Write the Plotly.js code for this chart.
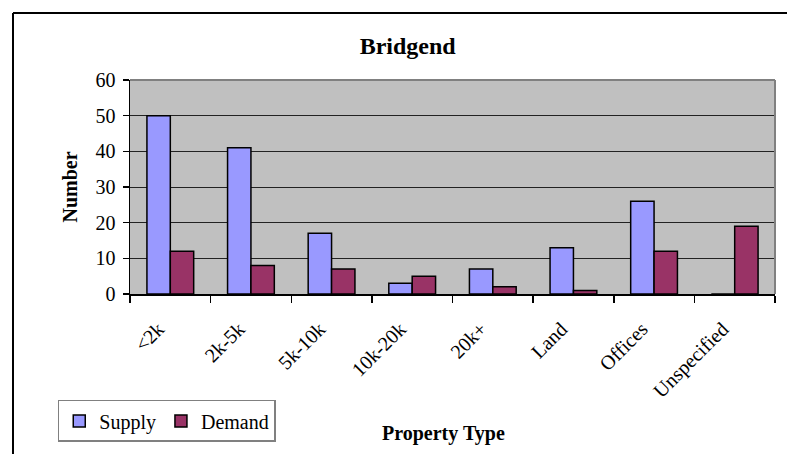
<!DOCTYPE html>
<html>
<head>
<meta charset="utf-8">
<script src="https://cdn.plot.ly/plotly-3.0.1.min.js"></script>
<style>
  body { margin: 0; background: #fff; }
  #chart { width: 787px; height: 454px; }
</style>
</head>
<body>
<div id="chart"></div>
<script>
// Bridgend - property type supply vs demand
const categories = ['<2k', '2k-5k', '5k-10k', '10k-20k', '20k+', 'Land', 'Offices', 'Unspecified'];
const supply = [50, 41, 17, 3, 7, 13, 26, 0];
const demand = [12, 8, 7, 5, 2, 1, 12, 19];
const yTicks = [0, 10, 20, 30, 40, 50, 60];

const serif = 'Liberation Serif, Times New Roman, serif';

const traces = [
    {
        x: categories,
        y: supply,
        type: 'bar',
        name: 'Supply',
        marker: { color: '#9999FF', line: { color: '#000', width: 1.5 } }
    },
    {
        x: categories,
        y: demand,
        type: 'bar',
        name: 'Demand',
        marker: { color: '#993366', line: { color: '#000', width: 1.5 } }
    }
];

const layout = {
    width: 787,
    height: 454,
    margin: { l: 130, r: 12, t: 80, b: 160 },
    paper_bgcolor: '#fff',
    plot_bgcolor: '#C0C0C0',
    font: { family: serif, size: 20, color: '#000' },
    barmode: 'group',
    bargap: 0.42,
    bargroupgap: 0,
    title: {
        text: '<b>Bridgend</b>',
        font: { family: serif, size: 24, color: '#000' },
        x: 0.518,
        xanchor: 'center',
        y: 0.899,
        yanchor: 'middle'
    },
    xaxis: {
        type: 'category',
        tickangle: -45,
        ticks: 'outside',
        tickson: 'boundaries',
        ticklen: 7,
        tickwidth: 1.5,
        tickcolor: '#000',
        ticklabelstandoff: 14,
        ticklabelshift: -12,
        showline: true,
        linecolor: '#000',
        linewidth: 1.5,
        showgrid: false,
        tickfont: { family: serif, size: 20, color: '#000' }
    },
    yaxis: {
        range: [0, 60],
        tickvals: yTicks,
        ticks: 'outside',
        ticklen: 6,
        tickwidth: 1.5,
        tickcolor: '#000',
        ticklabelstandoff: 3,
        showline: true,
        linecolor: '#000',
        linewidth: 1.5,
        showgrid: true,
        gridcolor: '#222',
        gridwidth: 1,
        zeroline: false,
        tickfont: { family: serif, size: 20, color: '#000' },
        title: {
            text: '<b>Number</b>',
            font: { family: serif, size: 20, color: '#000' },
            standoff: 12
        }
    },
    legend: {
        orientation: 'h',
        x: -0.112,
        xanchor: 'left',
        y: -0.495,
        yanchor: 'top',
        bgcolor: '#fff',
        bordercolor: '#808080',
        borderwidth: 1.5,
        font: { family: serif, size: 20, color: '#000' },
        traceorder: 'normal'
    },
    annotations: [
        {
            text: '<b>Property Type</b>',
            xref: 'paper', yref: 'paper',
            x: 0.4853, y: -0.654,
            xanchor: 'center', yanchor: 'middle',
            showarrow: false,
            font: { family: serif, size: 20, color: '#000' }
        }
    ],
    shapes: [
        // plot area border (top + right)
        { type: 'line', xref: 'paper', yref: 'paper', x0: 0, x1: 1, y0: 1, y1: 1, line: { color: '#808080', width: 2 } },
        { type: 'line', xref: 'paper', yref: 'paper', x0: 1, x1: 1, y0: 0, y1: 1, line: { color: '#808080', width: 2 } },
        // chart area border (only top + left visible)
        { type: 'line', xref: 'paper', yref: 'paper', x0: -0.1814, x1: 1.1, y0: 1.313, y1: 1.313, line: { color: '#000', width: 2 } },
        { type: 'line', xref: 'paper', yref: 'paper', x0: -0.1814, x1: -0.1814, y0: -0.8, y1: 1.313, line: { color: '#000', width: 2 } }
    ]
};

Plotly.newPlot('chart', traces, layout, { displayModeBar: false, staticPlot: true });
</script>
</body>
</html>
